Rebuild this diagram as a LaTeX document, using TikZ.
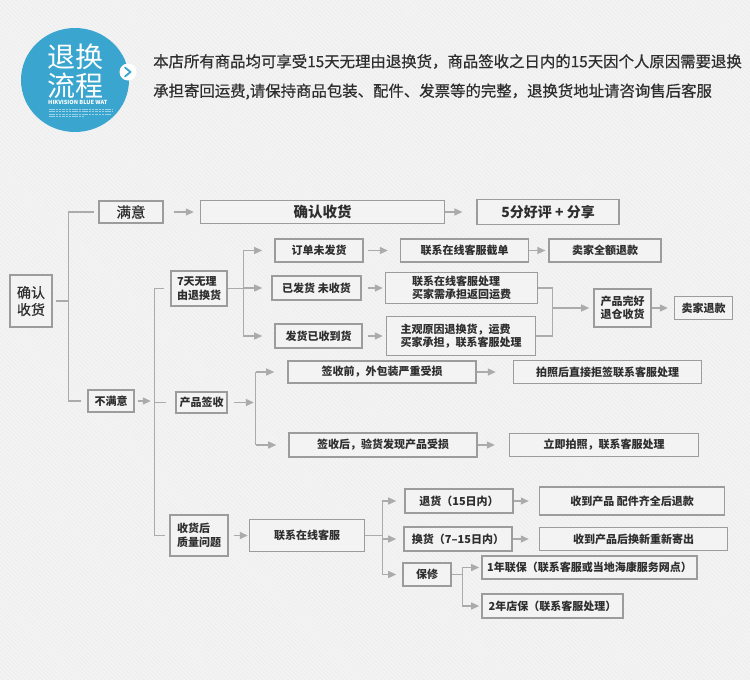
\documentclass[tikz,border=0pt]{standalone}
\usepackage{fontspec}
\newfontfamily\cjk{Noto Sans CJK SC}
\newfontfamily\cjkmid{Noto Sans CJK SC}[FakeBold=0.6]
\usetikzlibrary{arrows.meta, positioning, calc, patterns.meta}
\definecolor{bgcol}{HTML}{F3F3F3}
\definecolor{stripecol}{HTML}{ECECEC}
\definecolor{boxline}{HTML}{9C9C9C}
\definecolor{linkcol}{HTML}{ABABAB}
\definecolor{txtcol}{HTML}{2E2E2E}
\definecolor{badge}{HTML}{3AA6CF}
\newcommand{\bigtxt}{\cjk\fontsize{14.5}{17}\selectfont}

\begin{document}
\begin{tikzpicture}[x=1pt, y=-1pt, >={Triangle[length=8pt, width=7pt]},
  box/.style 2 args={draw=boxline, line width=1.6pt, fill=bgcol, inner sep=0pt,
    minimum width=#1pt, minimum height=#2pt, align=left, text=txtcol,
    font=\cjk\bfseries\fontsize{11}{13.5}\selectfont},
  link/.style={draw=linkcol, line width=1.3pt},
  arr/.style={link, ->}]
  \fill[bgcol] (0,0) rectangle (750,680);
  \fill[pattern={Lines[angle=-45, distance=3pt, line width=0.5pt]}, pattern color=stripecol] (0,0) rectangle (750,680);

  % header
  \fill[badge] (75,80) ellipse [x radius=54, y radius=52];
  \node[anchor=west, inner sep=0pt, text=white, font=\cjk\fontsize{28}{30}\selectfont] (title1) at (47,57) {退换};
  \node[anchor=west, inner sep=0pt, text=white, font=\cjk\fontsize{28}{30}\selectfont] (title2) at (47,86) {流程};
  \node[anchor=west, inner sep=0pt, text=white, font=\cjk\bfseries\fontsize{5.6}{6}\selectfont] (brand) at (48,102.5) {HIKVISION BLUE WAT};
  \foreach \yy/\xe in {109/113, 111.5/113, 114/111, 116.5/84}
    \draw[white, line width=0.45pt, dash pattern=on 2.5pt off 0.8pt, opacity=0.5] (49,\yy) -- (\xe,\yy);
  \fill[white] (128,72) circle [radius=8.5];
  \draw[badge, line width=1.8pt, line cap=round, line join=round] (125,67.5) -- (130.5,72) -- (125,76.5);
  \node[anchor=west, inner sep=0pt, text=txtcol, font=\cjkmid\fontsize{15.4}{18}\selectfont] (intro1) at (153,61.5) {本店所有商品均可享受15天无理由退换货，商品签收之日内的15天因个人原因需要退换};
  \node[anchor=west, inner sep=0pt, text=txtcol, font=\cjkmid\fontsize{15.4}{18}\selectfont] (intro2) at (153,91.5) {承担寄回运费,请保持商品包装、配件、发票等的完整，退换货地址请咨询售后客服};

  % left column
  \node[box={42}{52}, font=\cjkmid\fontsize{14}{17}\selectfont] (confirm) at (31,301) {确认\\收货};
  \node[box={64}{22}, font=\cjkmid\fontsize{14.5}{17}\selectfont] (sat) at (131,212) {满意};
  \node[box={244}{23}, font=\bigtxt\bfseries, right=36pt of sat] (accept) {确认收货};
  \node[box={142}{25}, font=\cjk\bfseries\fontsize{14}{17}\selectfont, right=31pt of accept] (review) {5分好评 + 分享};
  \node[box={46}{22}] (unsat) at (111,401) {不满意};

  % second column
  \node[box={56}{35}] (noreason) at (199,288.5) {7天无理\\由退换货};
  \node[box={51}{21}] (sign) at (201.5,402.5) {产品签收};
  \node[box={58}{41}] (quality) at (199,535.5) {收货后\\质量问题};

  % seven days
  \node[box={88}{23}] (unshipped) at (319,250.5) {订单未发货};
  \node[box={89}{24}] (shipped) at (316.5,288) {已发货 未收货};
  \node[box={87}{24}] (received) at (318.5,336) {发货已收到货};
  \node[box={128}{23}, right=36pt of unshipped] (cancel) {联系在线客服截单};
  \node[box={112}{23}, right=19pt of cancel] (fullref) {卖家全额退款};
  \node[box={152}{31}, right=23pt of shipped] (backfee) {联系在线客服处理\\买家需承担返回运费};
  \node[box={149}{39}, right=23pt of received] (subj) {主观原因退换货，运费\\买家承担，联系客服处理};
  \node[box={57}{38}] (intact) at (622.5,308) {产品完好\\退仓收货};
  \node[box={58}{23}, right=22pt of intact] (refund) {卖家退款};

  % signing
  \node[box={188}{22}] (before) at (382,372) {签收前，外包装严重受损};
  \node[box={188}{23}, right=36pt of before] (reject) {拍照后直接拒签联系客服处理};
  \node[box={188}{24}] (after) at (383,445) {签收后，验货发现产品受损};
  \node[box={189}{23}, right=31pt of after] (photo) {立即拍照，联系客服处理};

  % quality
  \node[box={115}{32}, right=20pt of quality] (service) {联系在线客服};
  \node[box={108}{24}] (ret) at (459,501) {退货（15日内）};
  \node[box={185}{28}, right=25pt of ret] (retdone) {收到产品 配件齐全后退款};
  \node[box={108}{24}] (exch) at (458,539) {换货（7–15日内）};
  \node[box={188}{23}, right=26pt of exch] (exchdone) {收到产品后换新重新寄出};
  \node[box={48}{23}] (repair) at (427,574.5) {保修};
  \node[box={215}{23}] (warr1) at (589.5,567.5) {1年联保（联系客服或当地海康服务网点）};
  \node[box={141}{24}] (warr2) at (552.5,606) {2年店保（联系客服处理）};

  % connectors
  \coordinate (rootfork) at ($(confirm.east)+(16,0)$);
  \draw[link] ([xshift=3pt]confirm.east) -- (rootfork);
  \draw[link] ([xshift=-4pt]sat.west) -| (rootfork) |- ([xshift=-6pt]unsat.west);
  \draw[arr, shorten <=10pt, shorten >=6pt] (sat) -- (accept);
  \draw[arr, shorten >=14pt] (accept) -- (review);

  \coordinate (mainfork) at ($(unsat.east)+(20,0)$);
  \draw[arr, shorten <=3pt, shorten >=4pt] (unsat.east) -- (mainfork);
  \draw[link] ([xshift=-6pt]noreason.west) -| (mainfork) |- ([xshift=-4pt]quality.west);
  \draw[link] (mainfork |- sign.west) -- ([xshift=-9pt]sign.west);

  \coordinate (nrfork) at ($(noreason.east)+(16,0)$);
  \draw[link] (noreason.east) -- (nrfork);
  \draw[arr] (nrfork) |- ([xshift=-12pt]unshipped.west);
  \draw[arr] (nrfork) |- ([xshift=-12pt]received.west);
  \draw[arr] (nrfork |- shipped.west) -- ([xshift=-9pt]shipped.west);
  \draw[arr, shorten <=4pt, shorten >=12pt] (unshipped) -- (cancel);
  \draw[arr, shorten >=3pt] (cancel) -- (fullref);
  \draw[arr, shorten <=6pt, shorten >=2pt] (shipped) -- (backfee);
  \draw[arr, shorten <=5pt, shorten >=3pt] (received) -- (subj);

  \coordinate (bkfork) at ($(backfee.east)+(14,0)$);
  \draw[link] (backfee.east) -- (bkfork) -- (bkfork |- subj.east) -- (subj.east);
  \draw[arr, shorten >=4pt] (bkfork |- intact.west) -- (intact.west);
  \draw[arr, shorten >=6pt] (intact) -- (refund);

  \coordinate (sgfork) at ($(sign.east)+(28,0)$);
  \draw[arr, shorten <=6pt, shorten >=2pt] (sign.east) -- (sgfork |- sign.east);
  \draw[link] (sgfork |- before.west) -- (sgfork |- after.west);
  \draw[arr, shorten >=13pt] (sgfork |- before.west) -- (before.west);
  \draw[arr, shorten >=12pt] (sgfork |- after.west) -- (after.west);
  \draw[arr, shorten >=17pt] (before) -- (reject);
  \draw[arr, shorten >=14pt] (after) -- (photo);

  \draw[arr, shorten <=5pt, shorten >=1pt] (quality) -- (service);
  \coordinate (svfork) at ($(service.east)+(17,0)$);
  \draw[link] (service.east) -- (svfork);
  \draw[arr] (svfork) |- ([xshift=-8pt]ret.west);
  \draw[arr] (svfork) |- ([xshift=-6pt]repair.west);
  \draw[arr] (svfork |- exch.west) -- ([xshift=-7pt]exch.west);
  \draw[arr, shorten >=10pt] (ret) -- (retdone);
  \draw[arr, shorten >=10pt] (exch) -- (exchdone);
  \coordinate (rpfork) at ($(repair.east)+(11,0)$);
  \draw[link] (repair.east) -- (rpfork);
  \draw[arr] (rpfork) |- ([xshift=-2pt]warr1.west);
  \draw[arr] (rpfork) |- ([xshift=-2pt]warr2.west);
\end{tikzpicture}
\end{document}
